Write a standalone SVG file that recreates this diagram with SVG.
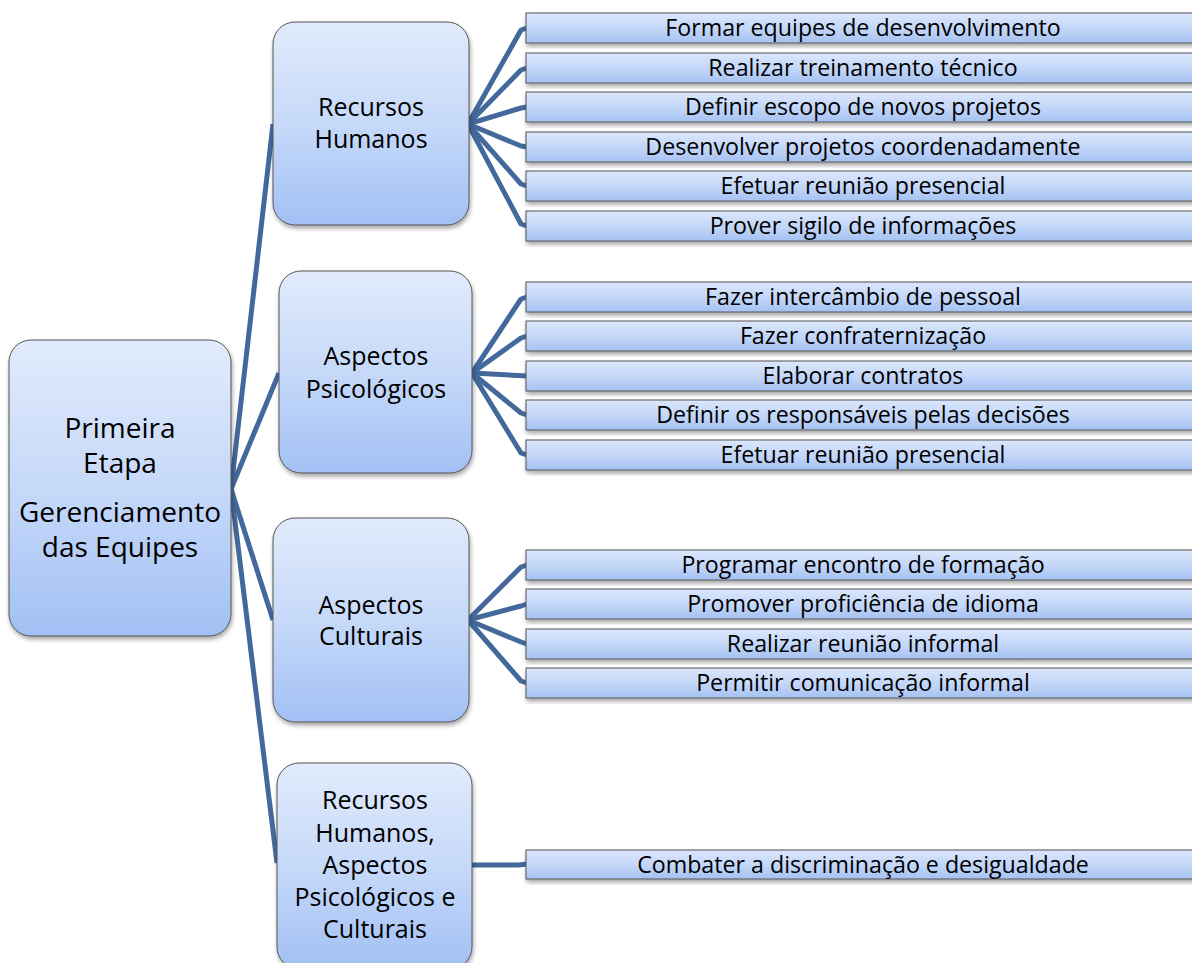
<svg xmlns="http://www.w3.org/2000/svg" width="1192" height="963" viewBox="0 0 1192 963">
<defs>
<linearGradient id="gNode" x1="0" y1="0" x2="0" y2="1">
<stop offset="0" stop-color="#e1ebfc"/>
<stop offset="0.5" stop-color="#c6d9f9"/>
<stop offset="1" stop-color="#a2c0f4"/>
</linearGradient>
<linearGradient id="gLeaf" x1="0" y1="0" x2="0" y2="1">
<stop offset="0" stop-color="#dbe7fc"/>
<stop offset="0.5" stop-color="#c4d7f8"/>
<stop offset="1" stop-color="#a5c2f3"/>
</linearGradient>
<filter id="sh" x="-10%" y="-10%" width="120%" height="130%">
<feDropShadow dx="1" dy="3" stdDeviation="2" flood-color="#000" flood-opacity="0.35"/>
</filter>
</defs>
<style>
.node{fill:url(#gNode);stroke:#555;stroke-width:1;filter:url(#sh)}
.leaf{fill:url(#gLeaf);stroke:#555;stroke-width:1;filter:url(#sh)}
.t{font-family:"Open Sans","Liberation Sans",sans-serif;fill:#000;text-anchor:middle}
.tr{font-size:28px}
.tc{font-size:25px}
.tl{font-size:23.2px}
.c{fill:none;stroke:#43699c;stroke-width:5;stroke-linejoin:round;stroke-linecap:butt}
</style>
<rect width="1192" height="963" fill="#fff"/>
<g id="connectors">
<path class="c" d="M231 489 L273 124"/>
<path class="c" d="M231 489 L279 373"/>
<path class="c" d="M231 489 L273 620"/>
<path class="c" d="M231 489 L277 863"/>
<path class="c" d="M468 124 L521 30 L527 28"/>
<path class="c" d="M468 124 L521 70 L527 68"/>
<path class="c" d="M468 124 L521 108 L527 107"/>
<path class="c" d="M468 124 L521 146 L527 147"/>
<path class="c" d="M468 124 L521 184 L527 186"/>
<path class="c" d="M468 124 L521 224 L527 226"/>
<path class="c" d="M472 373 L521 299 L527 297"/>
<path class="c" d="M472 373 L521 338 L527 336"/>
<path class="c" d="M472 373 L527 376"/>
<path class="c" d="M472 373 L521 413 L527 415"/>
<path class="c" d="M472 373 L521 453 L527 455"/>
<path class="c" d="M468 620 L521 567 L527 565"/>
<path class="c" d="M468 620 L521 606 L527 604"/>
<path class="c" d="M468 620 L521 642 L527 644"/>
<path class="c" d="M468 620 L521 681 L527 683"/>
<path class="c" d="M472 865 L519 865 L527 864"/>
</g>
<g id="root">
<rect class="node" x="9" y="340" width="222" height="296" rx="22"/>
<text class="t tr" x="120" y="438">Primeira</text>
<text class="t tr" x="120" y="473">Etapa</text>
<text class="t tr" x="120" y="522">Gerenciamento</text>
<text class="t tr" x="120" y="557">das Equipes</text>
</g>
<g id="n-rh">
<rect class="node" x="273" y="22" width="196" height="203" rx="22"/>
<text class="t tc" x="371" y="116">Recursos</text>
<text class="t tc" x="371" y="148">Humanos</text>
</g>
<g id="n-ap">
<rect class="node" x="279" y="271" width="193" height="202" rx="22"/>
<text class="t tc" x="376" y="365">Aspectos</text>
<text class="t tc" x="376" y="398">Psicológicos</text>
</g>
<g id="n-ac">
<rect class="node" x="273" y="518" width="196" height="204" rx="22"/>
<text class="t tc" x="371" y="614">Aspectos</text>
<text class="t tc" x="371" y="645">Culturais</text>
</g>
<g id="n-all">
<rect class="node" x="277" y="763" width="195" height="206" rx="22"/>
<text class="t tc" x="375" y="809">Recursos</text>
<text class="t tc" x="375" y="842">Humanos,</text>
<text class="t tc" x="375" y="874">Aspectos</text>
<text class="t tc" x="375" y="906">Psicológicos e</text>
<text class="t tc" x="375" y="938">Culturais</text>
</g>
<g id="leaf-1">
<rect class="leaf" x="526" y="13" width="680" height="30"/>
<text class="t tl" x="863" y="36">Formar equipes de desenvolvimento</text>
</g>
<g id="leaf-2">
<rect class="leaf" x="526" y="53" width="680" height="30"/>
<text class="t tl" x="863" y="76">Realizar treinamento técnico</text>
</g>
<g id="leaf-3">
<rect class="leaf" x="526" y="92" width="680" height="30"/>
<text class="t tl" x="863" y="115">Definir escopo de novos projetos</text>
</g>
<g id="leaf-4">
<rect class="leaf" x="526" y="132" width="680" height="30"/>
<text class="t tl" x="863" y="155">Desenvolver projetos coordenadamente</text>
</g>
<g id="leaf-5">
<rect class="leaf" x="526" y="171" width="680" height="30"/>
<text class="t tl" x="863" y="194">Efetuar reunião presencial</text>
</g>
<g id="leaf-6">
<rect class="leaf" x="526" y="211" width="680" height="30"/>
<text class="t tl" x="863" y="234">Prover sigilo de informações</text>
</g>
<g id="leaf-7">
<rect class="leaf" x="526" y="282" width="680" height="30"/>
<text class="t tl" x="863" y="305">Fazer intercâmbio de pessoal</text>
</g>
<g id="leaf-8">
<rect class="leaf" x="526" y="321" width="680" height="30"/>
<text class="t tl" x="863" y="344">Fazer confraternização</text>
</g>
<g id="leaf-9">
<rect class="leaf" x="526" y="361" width="680" height="30"/>
<text class="t tl" x="863" y="384">Elaborar contratos</text>
</g>
<g id="leaf-10">
<rect class="leaf" x="526" y="400" width="680" height="30"/>
<text class="t tl" x="863" y="423">Definir os responsáveis pelas decisões</text>
</g>
<g id="leaf-11">
<rect class="leaf" x="526" y="440" width="680" height="30"/>
<text class="t tl" x="863" y="463">Efetuar reunião presencial</text>
</g>
<g id="leaf-12">
<rect class="leaf" x="526" y="550" width="680" height="30"/>
<text class="t tl" x="863" y="573">Programar encontro de formação</text>
</g>
<g id="leaf-13">
<rect class="leaf" x="526" y="589" width="680" height="30"/>
<text class="t tl" x="863" y="612">Promover proficiência de idioma</text>
</g>
<g id="leaf-14">
<rect class="leaf" x="526" y="629" width="680" height="30"/>
<text class="t tl" x="863" y="652">Realizar reunião informal</text>
</g>
<g id="leaf-15">
<rect class="leaf" x="526" y="668" width="680" height="30"/>
<text class="t tl" x="863" y="691">Permitir comunicação informal</text>
</g>
<g id="leaf-16">
<rect class="leaf" x="526" y="850" width="680" height="29"/>
<text class="t tl" x="863" y="873">Combater a discriminação e desigualdade</text>
</g>
</svg>
